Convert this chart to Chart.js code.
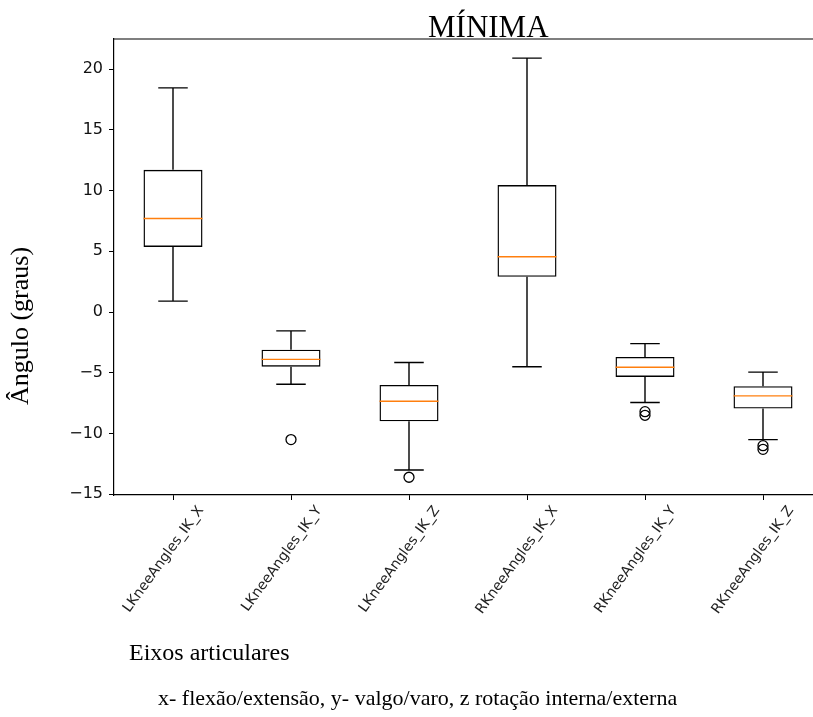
<html>
<head>
<title>MÍNIMA</title>
<style>
body { margin: 0; overflow: hidden; background: #fff; }
#wrap { position: relative; width: 830px; height: 717px; }
</style>
<script src="https://cdn.jsdelivr.net/npm/chart.js"></script>
</head>
<body>
<div id="wrap"><canvas id="myChart"></canvas></div>
<script>
// values
const categories = ['LKneeAngles_IK_X', 'LKneeAngles_IK_Y', 'LKneeAngles_IK_Z',
	'RKneeAngles_IK_X', 'RKneeAngles_IK_Y', 'RKneeAngles_IK_Z'];
const whiskerLow = [0.9, -5.95, -13.0, -4.5, -7.45, -10.5];
const q1 = [5.35, -4.5, -9.0, 2.9, -5.35, -7.95];
const median = [7.7, -3.9, -7.35, 4.55, -4.55, -6.9];
const q3 = [11.7, -3.1, -6.0, 10.45, -3.7, -6.1];
const whiskerHigh = [18.45, -1.55, -4.15, 20.9, -2.6, -4.95];
const outliers = [[], [-10.5], [-13.6], [], [-8.2, -8.5], [-11.0, -11.3]];
const yTicks = [-15, -10, -5, 0, 5, 10, 15, 20];

const titleText = 'MÍNIMA';
const yLabel = 'Ângulo (graus)';
const xLabel = 'Eixos articulares';
const note = 'x- flexão/extensão, y- valgo/varo, z rotação interna/externa';

const serif = '"Liberation Serif", "Times New Roman", serif';

// whiskers, caps, medians, frame top and the text around the axes
const boxExtras = {
	id: 'boxExtras',
	afterDatasetsDraw(chart) {
		const ctx = chart.ctx, x = chart.scales.x, y = chart.scales.y;
		const area = chart.chartArea;
		const step = x.getPixelForValue(1) - x.getPixelForValue(0);
		ctx.save();
		ctx.lineWidth = 1.4;
		categories.forEach((c, i) => {
			const cx = x.getPixelForValue(i);
			ctx.strokeStyle = '#000';
			ctx.beginPath();
			ctx.moveTo(cx, y.getPixelForValue(q3[i]));
			ctx.lineTo(cx, y.getPixelForValue(whiskerHigh[i]));
			ctx.moveTo(cx, y.getPixelForValue(q1[i]));
			ctx.lineTo(cx, y.getPixelForValue(whiskerLow[i]));
			ctx.moveTo(cx - step * 0.125, y.getPixelForValue(whiskerHigh[i]));
			ctx.lineTo(cx + step * 0.125, y.getPixelForValue(whiskerHigh[i]));
			ctx.moveTo(cx - step * 0.125, y.getPixelForValue(whiskerLow[i]));
			ctx.lineTo(cx + step * 0.125, y.getPixelForValue(whiskerLow[i]));
			ctx.stroke();
			ctx.strokeStyle = '#ff7f0e';
			ctx.beginPath();
			ctx.moveTo(cx - step * 0.25, y.getPixelForValue(median[i]));
			ctx.lineTo(cx + step * 0.25, y.getPixelForValue(median[i]));
			ctx.stroke();
		});
		// top spine
		ctx.strokeStyle = '#000';
		ctx.lineWidth = 1.2;
		ctx.beginPath();
		ctx.moveTo(area.left, area.top);
		ctx.lineTo(area.right, area.top);
		ctx.stroke();

		ctx.fillStyle = '#000';
		ctx.textBaseline = 'alphabetic';
		ctx.textAlign = 'left';
		ctx.font = '31px ' + serif;
		ctx.fillText(titleText, 428, 37);
		ctx.font = '24px ' + serif;
		ctx.fillText(xLabel, 129, 660);
		ctx.font = '22px ' + serif;
		ctx.fillText(note, 158, 705);
		ctx.font = '26px ' + serif;
		ctx.save();
		ctx.translate(28, 326);
		ctx.rotate(-Math.PI / 2);
		ctx.textAlign = 'center';
		ctx.fillText(yLabel, 0, 0);
		ctx.restore();
		ctx.restore();
	}
};

function load()
{
	const outlierPoints = [];
	outliers.forEach((list, i) => {
		list.forEach(v => outlierPoints.push({ x: categories[i], y: v }));
	});

	const data = {
		labels: categories,
		datasets: [{
			type: 'bar',
			label: 'box',
			data: categories.map((c, i) => [q1[i], q3[i]]),
			backgroundColor: 'rgba(255,255,255,0)',
			borderColor: '#000',
			borderWidth: 1.4,
			borderSkipped: false,
			barPercentage: 0.5,
			categoryPercentage: 1.0
		},
		{
			type: 'scatter',
			label: 'outliers',
			data: outlierPoints,
			pointStyle: 'circle',
			pointRadius: 5,
			borderColor: '#000',
			borderWidth: 1.3,
			backgroundColor: 'rgba(0,0,0,0)'
		}]
	};

	const config = {
		type: 'bar',
		data: data,
		options: {
			responsive: true,
			maintainAspectRatio: false,
			animation: false,
			layout: { padding: { top: 39, right: 8, bottom: 0, left: 0 } },
			plugins: {
				legend: { display: false },
				tooltip: { enabled: false }
			},
			scales: {
				x: {
					type: 'category',
					offset: true,
					afterFit: s => { s.height = 222; },
					grid: { display: true, offset: false, drawOnChartArea: false, drawTicks: true, tickLength: 5, color: '#000' },
					border: { display: true, color: '#000', width: 1.2 },
					ticks: {
						autoSkip: false,
						minRotation: 54,
						maxRotation: 54,
						labelOffset: 28,
						padding: 3,
						color: '#222',
						font: { family: '"DejaVu Sans"', size: 14 }
					}
				},
				y: {
					min: -15.06,
					max: 22.47,
					afterFit: s => { s.width = 114; },
					afterBuildTicks: s => { s.ticks = yTicks.map(v => ({ value: v })); },
					grid: { display: true, drawOnChartArea: false, drawTicks: true, tickLength: 5, color: '#000' },
					border: { display: true, color: '#000', width: 1.2 },
					ticks: {
						padding: 6,
						color: '#111',
						font: { family: '"DejaVu Sans"', size: 16 },
						callback: v => (v < 0 ? '\u2212' + Math.abs(v) : '' + v)
					}
				}
			}
		},
		plugins: [boxExtras]
	};
	new Chart(document.getElementById('myChart'), config);
}
load();
</script>
</body>
</html>
